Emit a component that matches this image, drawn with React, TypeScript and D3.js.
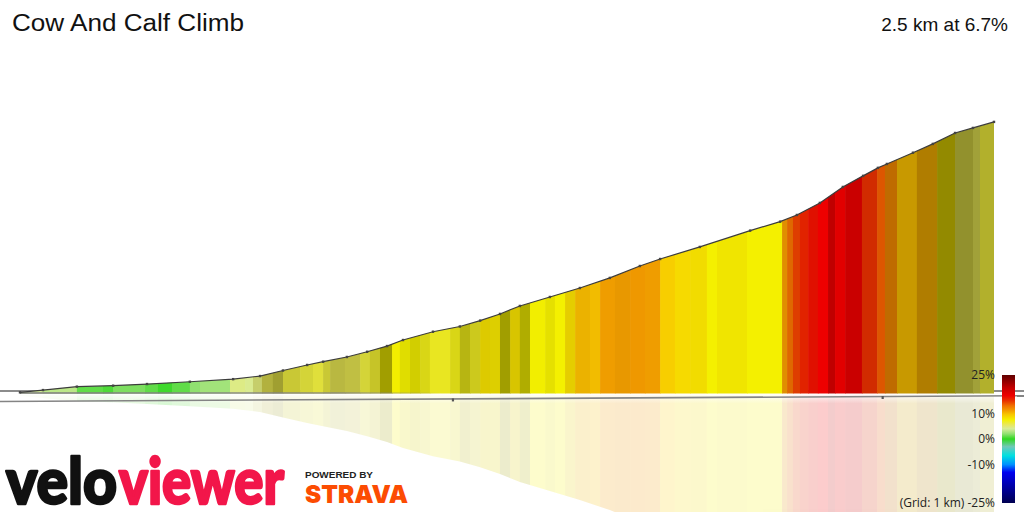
import React from "react";
import * as d3 from "d3";

// ---- profile data (distance km, elevation m relative to start) ----
const distKm = [0, 0.059, 0.146, 0.239, 0.326, 0.436, 0.547, 0.616, 0.675, 0.737, 0.778, 0.839, 0.891, 0.942, 0.983, 1.06, 1.129, 1.181, 1.232, 1.283, 1.36, 1.437, 1.514, 1.591, 1.643, 1.745, 1.874, 1.951, 1.994, 2.053, 2.112, 2.164, 2.202, 2.225, 2.292, 2.343, 2.4, 2.446, 2.5];
const elevM = [0.7, 2.1, 4.2, 4.8, 5.8, 7.2, 8.8, 10.7, 14.1, 17.5, 19.5, 22.4, 25.6, 29.1, 32.8, 37.9, 41.1, 44.7, 48.8, 53.7, 59.2, 64.7, 70.9, 78.2, 82.5, 89.9, 99.9, 105.4, 109.5, 116.9, 126.7, 133.5, 138.4, 140.8, 147.7, 153.1, 159.8, 162.9, 166.6];

// ---- gradient bands (end distance km, gradient %, light from bearing) ----
const bandEndKm = [0.059, 0.146, 0.213, 0.239, 0.321, 0.354, 0.39, 0.436, 0.462, 0.539, 0.578, 0.598, 0.621, 0.649, 0.675, 0.719, 0.752, 0.778, 0.796, 0.834, 0.873, 0.898, 0.924, 0.955, 0.975, 1.001, 1.027, 1.052, 1.104, 1.129, 1.155, 1.181, 1.206, 1.232, 1.258, 1.283, 1.309, 1.348, 1.373, 1.399, 1.425, 1.463, 1.489, 1.527, 1.566, 1.604, 1.643, 1.681, 1.72, 1.763, 1.789, 1.866, 1.956, 1.969, 1.984, 2.002, 2.023, 2.048, 2.074, 2.092, 2.118, 2.161, 2.2, 2.22, 2.251, 2.302, 2.354, 2.4, 2.446, 2.464, 2.5];
const bandGrade = [3.8, 3.2, 1.0, 0.6, 1.6, 1.0, 0.3, 1.0, 2.0, 2.5, 4.5, 4.2,
  4.8, 5.8, 6.0, 6.2, 6.2, 6.2, 6.2, 5.8, 5.8, 6.2,
  6.5, 7.5, 7.5, 7.5, 7.5, 7.0, 6.8, 7.0, 7.0, 6.8,
  8.3, 8.0, 7.5, 8.3, 7.5, 7.5, 7.6, 7.5, 8.5, 10.0,
  9.8, 11.0, 11.0, 11.2, 11.0, 9.2, 8.6, 8.3, 7.5, 7.8,
  7.5, 11.2, 13.0, 14.5, 15.5, 16.3, 17.0, 20.0, 17.0, 18.5,
  15.0, 13.6, 12.0, 9.9, 10.5, 8.0, 6.0, 5.8, 6.3];
const bandLight = [1, 1, 1, 1, 1, 1, 1, 1, 1, 1, 1, 1,
  0.88, 0.76, 0.68, 0.85, 0.9, 0.95, 0.85, 0.79, 0.82, 0.9,
  0.83, 0.66, 0.99, 0.92, 0.86, 0.9, 0.97, 0.9, 0.76, 0.85,
  0.9, 0.9, 0.66, 0.88, 0.72, 0.99, 0.94, 1, 0.93, 0.95,
  0.98, 0.98, 0.95, 0.98, 0.98, 1, 1, 0.98, 1, 0.98,
  1, 0.92, 0.93, 0.95, 0.96, 0.95, 1, 0.98, 0.95, 0.93,
  0.9, 0.93, 0.79, 0.81, 0.72, 0.6, 0.62, 0.69, 0.75];

// ---- colour scale of gradient ----
const gradeStops = [-25, -19, -13, -10, -6.5, -3, 0, 2, 4, 5.5, 7.5, 9.5, 11, 13, 15, 17, 20, 25];
const gradeColors = ["#000050", "#0000a0", "#0000f0", "#0090ff", "#00e0e0", "#70c8b8", "#30d820", "#90e070", "#d8ec98", "#e8e860", "#f4f000", "#f8c800", "#f4a000", "#f07000", "#e83000", "#ee0000", "#c40000", "#600000"];
const legendTicks = [25, 10, 0, -10, -25];
const legendLabels = ["25%", "10%", "0%", "-10%", "(Grid: 1 km) -25%"];
const gridTickKm = [1.111, 2.214];

const title = "Cow And Calf Climb";
const summary = "2.5 km at 6.7%";

export default function App() {
  const W = 1024, H = 512;
  const baseY = 393.5;
  const x = d3.scaleLinear().domain([0, 2.5]).range([20, 994]);
  const y = d3.scaleLinear().domain([0, 166.6]).range([baseY, 121.9]);
  const color = d3.scaleLinear<string>().domain(gradeStops).range(gradeColors).interpolate(d3.interpolateRgb).clamp(true);
  const shade = (g: number, l: number) => {
    const c = d3.rgb(color(g));
    return d3.rgb(c.r * l, c.g * l, c.b * l).formatHex();
  };
  const pts = distKm.map((d, i) => [d, elevM[i]] as [number, number]);
  const area = d3.area<[number, number]>().x(d => x(d[0])).y0(baseY).y1(d => y(d[1]))(pts) || "";
  const line = d3.line<[number, number]>().x(d => x(d[0])).y(d => y(d[1]))(pts) || "";
  const bands = bandEndKm.map((e, i) => {
    const s = i === 0 ? 0 : bandEndKm[i - 1];
    return { x0: x(s), x1: x(e), fill: shade(bandGrade[i], bandLight[i]) };
  });
  const bar = d3.scaleLinear().domain([25, -25]).range([375, 503]);
  const lineBY = d3.scaleLinear().domain([0, W]).range([401.5, 395.7]);

  const bandRects = bands.map((b, i) => (
    <rect key={i} x={b.x0} y={100} width={b.x1 - b.x0 + 0.6} height={baseY - 100 + 1} fill={b.fill} />
  ));

  const logoFont = "Lato, Inter, Roboto, 'DejaVu Sans', sans-serif";

  return (
    <svg width={W} height={H} style={{ position: "absolute", left: 0, top: 0, background: "#fff" }}>
      <defs>
        <clipPath id="prof" clipPathUnits="userSpaceOnUse">
          <path d={area} />
        </clipPath>
        <linearGradient id="bar" x1="0" y1="0" x2="0" y2="1">
          {gradeStops.slice().reverse().map((g, i) => (
            <stop key={i} offset={(bar(g) - 375) / 128} stopColor={color(g)} />
          ))}
        </linearGradient>
        <linearGradient id="fadeTop" x1="0" y1="0" x2="0" y2="1">
          <stop offset="0" stopColor="#fff" stopOpacity={0.9} />
          <stop offset="1" stopColor="#fff" stopOpacity={0} />
        </linearGradient>
        <linearGradient id="edgeFade" x1="0" y1="0" x2="1" y2="0">
          <stop offset="0" stopColor="#808080" stopOpacity={0.8} />
          <stop offset="0.75" stopColor="#808080" stopOpacity={0.6} />
          <stop offset="1" stopColor="#808080" stopOpacity={0} />
        </linearGradient>
      </defs>

      {/* back grid line */}
      <line x1={0} x2={W} y1={391} y2={391} stroke="#8c8c8c" strokeWidth={2} />

      {/* reflection */}
      <g transform={`translate(0, ${2 * baseY + 1}) scale(1,-1)`} opacity={0.2} clipPath="url(#prof)">
        {bandRects}
      </g>
      <rect x={0} y={baseY} width={W} height={10} fill="url(#fadeTop)" />

      {/* profile */}
      <g clipPath="url(#prof)">{bandRects}</g>
      <rect x={20} y={392} width={420} height={2} fill="url(#edgeFade)" />
      <path d={line} fill="none" stroke="#3c3c3c" strokeWidth={1.2} />
      {pts.map((p, i) => (
        <rect key={i} x={x(p[0]) - 1.2} y={y(p[1]) - 1.2} width={2.4} height={2.4} fill="#444" />
      ))}

      {/* front grid line */}
      <line x1={0} x2={W} y1={lineBY(0)} y2={lineBY(W)} stroke="#848484" strokeWidth={1.6} />
      {gridTickKm.map((k, i) => (
        <rect key={i} x={x(k) - 1} y={lineBY(x(k)) - 0.5} width={2.2} height={3} fill="#555" />
      ))}

      {/* titles */}
      <text x={12} y={31} fontFamily="'Liberation Sans', Arial, sans-serif" fontSize={23} fill="#111" textLength={232} lengthAdjust="spacingAndGlyphs">{title}</text>
      <text x={1008} y={31} textAnchor="end" fontFamily="'Liberation Sans', Arial, sans-serif" fontSize={19} fill="#111">{summary}</text>

      {/* legend */}
      <rect x={1002} y={375} width={13} height={128} fill="url(#bar)" />
      {legendTicks.map((t, i) => (
        <text key={i} x={995} y={bar(t) + 4.3} textAnchor="end" fontFamily="'Open Sans', 'DejaVu Sans', sans-serif" fontSize={12} fill="#222">{legendLabels[i]}</text>
      ))}

      {/* logos */}
      <text x={6} y={504} fontFamily={logoFont} fontWeight={900} fontSize={64} fill="#111" stroke="#111" strokeWidth={2.5} strokeLinejoin="round" textLength={111} lengthAdjust="spacingAndGlyphs">velo</text>
      <text x={119} y={504} fontFamily={logoFont} fontWeight={900} fontSize={64} fill="#f2164a" stroke="#f2164a" strokeWidth={2.5} strokeLinejoin="round" textLength={165} lengthAdjust="spacingAndGlyphs">viewer</text>
      <text x={305} y={477.5} fontFamily="'Liberation Sans', Arial, sans-serif" fontWeight={700} fontSize={9.5} fill="#222" textLength={68} lengthAdjust="spacingAndGlyphs">POWERED BY</text>
      <text x={305} y={503} fontFamily="Inter, Roboto, 'DejaVu Sans', sans-serif" fontWeight={900} fontSize={24.5} fill="#fc4c02" textLength={103} lengthAdjust="spacingAndGlyphs">STRAVA</text>
    </svg>
  );
}
